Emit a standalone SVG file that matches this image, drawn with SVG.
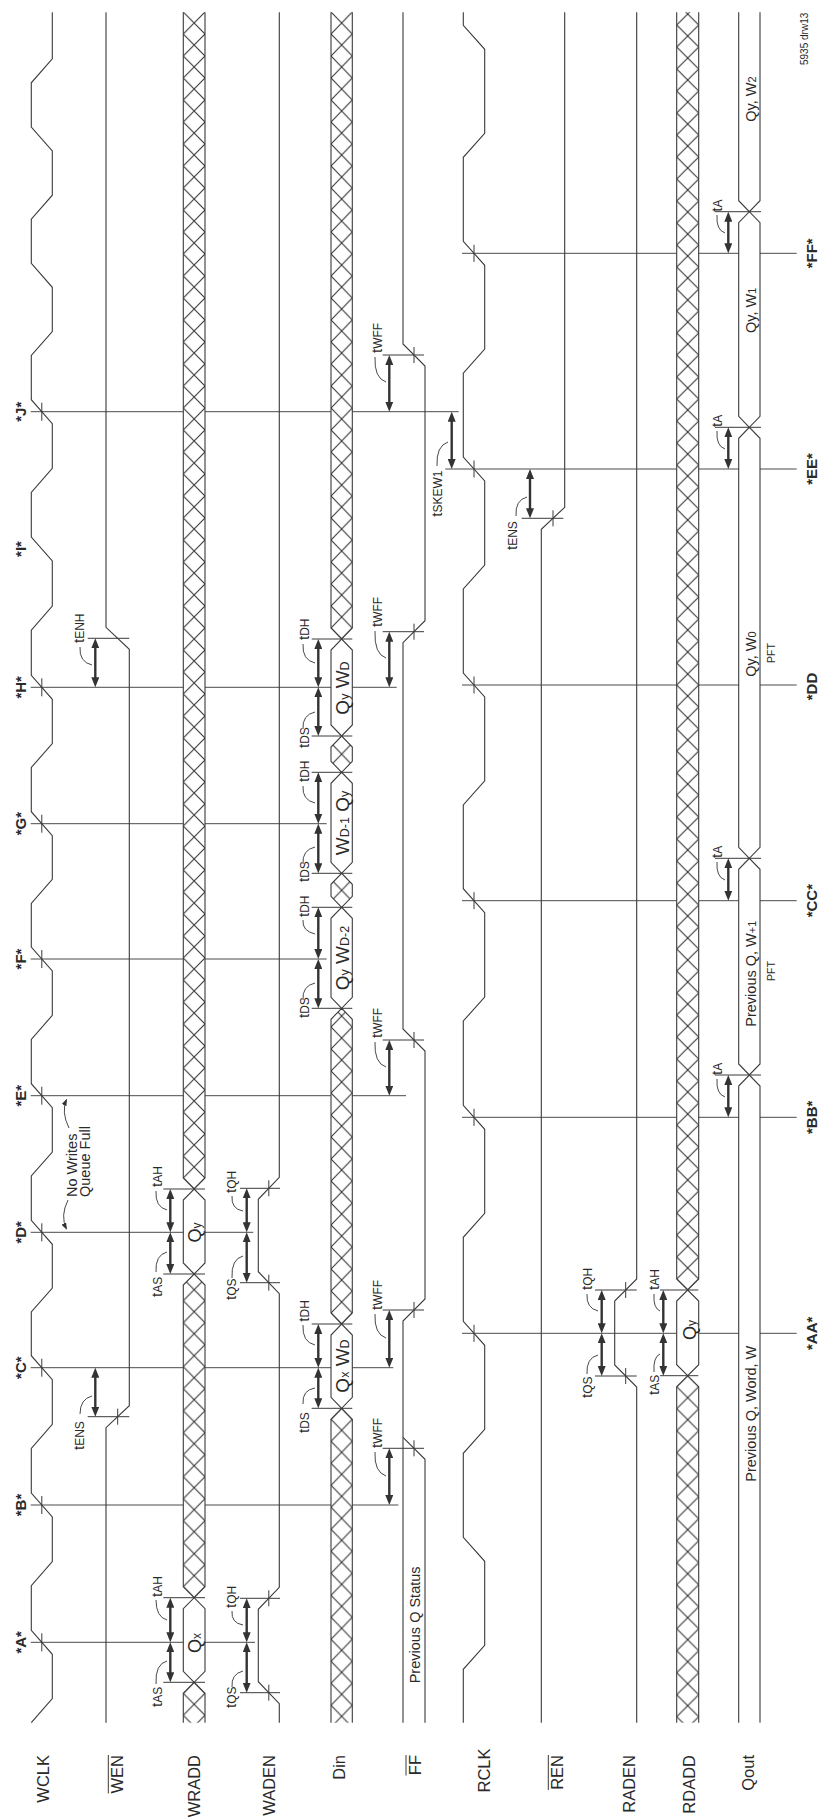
<svg xmlns="http://www.w3.org/2000/svg" width="823" height="1820" viewBox="0 0 823 1820">
<style>
text{font-family:"Liberation Sans",Arial,Helvetica,sans-serif;fill:#2a2a2a}
.w{fill:none;stroke:#3a3a3a;stroke-width:1.1}
.t{fill:none;stroke:#4a4a4a;stroke-width:1}
.k{fill:none;stroke:#3a3a3a;stroke-width:1}
.bw{fill:#fff;stroke:#3a3a3a;stroke-width:1.1}
.a{stroke:#333;stroke-width:2.4;marker-start:url(#ah);marker-end:url(#ah)}
.l{fill:none;stroke:#333;stroke-width:0.9}
.hl{stroke:#363636;stroke-width:1.1}
.n{font-size:16.5px}
.m{font-size:15px;font-weight:bold}
.tl{font-size:15px}
.s{font-size:12px}
.bt{font-size:18px}
.bd{font-size:19px}
.sd{font-size:12.5px}
.q{font-size:14.5px}
.p{font-size:10.5px}
</style>
<defs>
<marker id="ah" viewBox="0 0 10 8" refX="4" refY="4" markerWidth="10" markerHeight="8" markerUnits="userSpaceOnUse" orient="auto-start-reverse"><path d="M0,0L10,4L0,8Z" fill="#333"/></marker>
<marker id="sa" viewBox="0 0 8 6" refX="7" refY="3" markerWidth="7" markerHeight="5.5" markerUnits="userSpaceOnUse" orient="auto"><path d="M0,0L8,3L0,6Z" fill="#333"/></marker>
<g id="hxW"><rect width="21.7" height="22" fill="#fff"/><path class="hl" d="M0,0L21.7,22M0,22L21.7,0"/></g>
<g id="hxD"><rect width="21.3" height="22" fill="#fff"/><path class="hl" d="M0,0L21.3,22M0,22L21.3,0"/></g>
<g id="hxR"><rect width="22" height="22" fill="#fff"/><path class="hl" d="M0,0L22,22M0,22L22,0"/></g>
<pattern id="pW1" patternUnits="userSpaceOnUse" x="183.3" y="1671.3" width="21.7" height="22"><use href="#hxW"/></pattern>
<pattern id="pW3" patternUnits="userSpaceOnUse" x="183.3" y="1586.7" width="21.7" height="22"><use href="#hxW"/></pattern>
<pattern id="pW5" patternUnits="userSpaceOnUse" x="183.3" y="1178" width="21.7" height="22"><use href="#hxW"/></pattern>
<pattern id="pD1" patternUnits="userSpaceOnUse" x="331" y="1397.3" width="21.3" height="22"><use href="#hxD"/></pattern>
<pattern id="pD3" patternUnits="userSpaceOnUse" x="331" y="1313" width="21.3" height="22"><use href="#hxD"/></pattern>
<pattern id="pD5" patternUnits="userSpaceOnUse" x="331" y="879.3" width="21.3" height="22"><use href="#hxD"/></pattern>
<pattern id="pD7" patternUnits="userSpaceOnUse" x="331" y="743.15" width="21.3" height="22"><use href="#hxD"/></pattern>
<pattern id="pD9" patternUnits="userSpaceOnUse" x="331" y="628" width="21.3" height="22"><use href="#hxD"/></pattern>
<pattern id="pR1" patternUnits="userSpaceOnUse" x="676.7" y="1364.7" width="22" height="22"><use href="#hxR"/></pattern>
<pattern id="pR3" patternUnits="userSpaceOnUse" x="676.7" y="1279" width="22" height="22"><use href="#hxR"/></pattern>
</defs>
<rect width="823" height="1820" fill="#fff"/>

<g id="time-lines">
<path class="t" d="M30.7,1642.3H255M30.7,1505H398.3M30.7,1367.7H393.3M30.7,1232.3H253.3M30.7,1095.7H406M30.7,959H326.7M30.7,823.7H326.7M30.7,687.3H396.7M30.7,411.7H458.7M462,1333.3H796.7M462,1117.3H796.7M462,900.7H796.7M462,685H796.7M445.3,469H796.7M462,253.3H796.7"/>
</g>

<g id="sig-WCLK">
<polyline class="w" points="31.3,1722.7 52.3,1698.6 52.3,1654.3 31.3,1630.3 31.3,1585.65 52.3,1561.65 52.3,1517 31.3,1493 31.3,1448.35 52.3,1424.35 52.3,1379.7 31.3,1355.7 31.3,1312 52.3,1288 52.3,1244.3 31.3,1220.3 31.3,1176 52.3,1152 52.3,1107.7 31.3,1083.7 31.3,1039.35 52.3,1015.35 52.3,971 31.3,947 31.3,903.35 52.3,879.35 52.3,835.7 31.3,811.7 31.3,767.5 52.3,743.5 52.3,699.3 31.3,675.3 31.3,630.15 52.3,606.15 52.3,561 31.3,537 31.3,492.35 52.3,468.35 52.3,423.7 31.3,399.7 31.3,355.5 52.3,331.5 52.3,287.3 31.3,263.3 31.3,219.2 52.3,195.2 52.3,151 31.3,127 31.3,82.8 52.3,58.8 52.3,12.3"/>
<text class="n" text-anchor="end" transform="translate(48.5,1755) rotate(-90)">WCLK</text>
</g>

<g id="sig-WEN">
<polyline class="w" points="106,1722.7 106,1427.7 129.3,1405.7 129.3,649.3 106,627.3 106,12.3"/>
<text class="n" text-anchor="end" transform="translate(123,1755) rotate(-90)">WEN</text>
<line class="k" x1="108.3" y1="1755" x2="108.3" y2="1793.5" stroke-width="1.2"/>
</g>

<g id="sig-WRADD">
<path class="bw" style="fill:url(#pW1)" d="M183.3,1722.7L183.3,1693.3L194.15,1682.3L205,1693.3L205,1722.7"/>
<path class="bw" d="M194.15,1682.3L183.3,1671.3L183.3,1608.7L194.15,1597.7L205,1608.7L205,1671.3Z"/>
<path class="bw" style="fill:url(#pW3)" d="M194.15,1597.7L183.3,1586.7L183.3,1285L194.15,1274L205,1285L205,1586.7Z"/>
<path class="bw" d="M194.15,1274L183.3,1263L183.3,1200L194.15,1189L205,1200L205,1263Z"/>
<path class="bw" style="fill:url(#pW5)" d="M183.3,12.3L183.3,1178L194.15,1189L205,1178L205,12.3"/>
<text class="bt" text-anchor="middle" transform="translate(200.5,1643) rotate(-90)">Q<tspan class="s">x</tspan></text>
<text class="bt" text-anchor="middle" transform="translate(200.5,1232.5) rotate(-90)">Q<tspan class="s">y</tspan></text>
<text class="n" text-anchor="end" transform="translate(200,1755) rotate(-90)">WRADD</text>
</g>

<g id="sig-WADEN">
<polyline class="w" points="279.3,1722.7 279.3,1703.7 258.3,1681.7 258.3,1609.3 279.3,1587.3 279.3,1293.7 258.3,1271.7 258.3,1199.3 279.3,1177.3 279.3,12.3"/>
<text class="n" text-anchor="end" transform="translate(275,1755) rotate(-90)">WADEN</text>
</g>

<g id="sig-Din">
<path class="bw" style="fill:url(#pD1)" d="M331,1722.7L331,1419.3L341.65,1408.3L352.3,1419.3L352.3,1722.7"/>
<path class="bw" d="M341.65,1408.3L331,1397.3L331,1335L341.65,1324L352.3,1335L352.3,1397.3Z"/>
<path class="bw" style="fill:url(#pD3)" d="M341.65,1324L331,1313L331,1019.3L341.65,1008.3L352.3,1019.3L352.3,1313Z"/>
<path class="bw" d="M341.65,1008.3L331,997.3L331,918.3L341.65,907.3L352.3,918.3L352.3,997.3Z"/>
<path class="bw" style="fill:url(#pD5)" d="M341.65,907.3L331,896.3L331,884.3L341.65,873.3L352.3,884.3L352.3,896.3Z"/>
<path class="bw" d="M341.65,873.3L331,862.3L331,783.3L341.65,772.3L352.3,783.3L352.3,862.3Z"/>
<path class="bw" style="fill:url(#pD7)" d="M341.65,772.3L331,761.3L331,747L341.65,736L352.3,747L352.3,761.3Z"/>
<path class="bw" d="M341.65,736L331,725L331,650L341.65,639L352.3,650L352.3,725Z"/>
<path class="bw" style="fill:url(#pD9)" d="M331,12.3L331,628L341.65,639L352.3,628L352.3,12.3"/>
<text class="bd" text-anchor="middle" transform="translate(348.5,1366) rotate(-90)">Q<tspan class="sd">x</tspan> W<tspan class="sd">D</tspan></text>
<text class="bd" text-anchor="middle" transform="translate(348.5,958) rotate(-90)">Q<tspan class="sd">y</tspan> W<tspan class="sd">D-2</tspan></text>
<text class="bd" text-anchor="middle" transform="translate(348.5,823) rotate(-90)">W<tspan class="sd">D-1</tspan> Q<tspan class="sd">y</tspan></text>
<text class="bd" text-anchor="middle" transform="translate(348.5,688) rotate(-90)">Q<tspan class="sd">y</tspan> W<tspan class="sd">D</tspan></text>
<text class="n" text-anchor="end" transform="translate(345,1755) rotate(-90)">Din</text>
</g>

<g id="sig-FF">
<polyline class="w" points="403,1722.7 403,1321 425,1299 425,1051 403,1029 403,642.7 425,620.7 425,366 403,344 403,12.3"/>
<polyline class="w" points="425,1722.7 425,1459.3 403,1437.3"/>
<text class="q" transform="translate(420,1683.3) rotate(-90)">Previous Q Status</text>
<text class="n" text-anchor="end" transform="translate(420.5,1755) rotate(-90)">FF</text>
<line class="k" x1="406" y1="1755" x2="406" y2="1775.5" stroke-width="1.2"/>
</g>

<g id="sig-RCLK">
<polyline class="w" points="463.3,1722.7 463.3,1669.3 484.7,1645.3 484.7,1561.3 463.3,1537.3 463.3,1453.3 484.7,1429.3 484.7,1345.3 463.3,1321.3 463.3,1237.3 484.7,1213.3 484.7,1129.3 463.3,1105.3 463.3,1021 484.7,997 484.7,912.7 463.3,888.7 463.3,804.85 484.7,780.85 484.7,697 463.3,673 463.3,589 484.7,565 484.7,481 463.3,457 463.3,373.15 484.7,349.15 484.7,265.3 463.3,241.3 463.3,157.3 484.7,133.3 484.7,49.3 463.3,25.3 463.3,12.3"/>
<text class="n" text-anchor="end" transform="translate(490,1748.5) rotate(-90)">RCLK</text>
</g>

<g id="sig-REN">
<polyline class="w" points="541.3,1722.7 541.3,529.3 564.7,507.3 564.7,12.3"/>
<text class="n" text-anchor="end" transform="translate(563,1755) rotate(-90)">REN</text>
<line class="k" x1="548.3" y1="1755" x2="548.3" y2="1790" stroke-width="1.2"/>
</g>

<g id="sig-RADEN">
<polyline class="w" points="636.7,1722.7 636.7,1387 614.7,1365 614.7,1301 636.7,1279 636.7,12.3"/>
<text class="n" text-anchor="end" transform="translate(635,1755) rotate(-90)">RADEN</text>
</g>

<g id="sig-RDADD">
<path class="bw" style="fill:url(#pR1)" d="M676.7,1722.7L676.7,1386.7L687.7,1375.7L698.7,1386.7L698.7,1722.7"/>
<path class="bw" d="M687.7,1375.7L676.7,1364.7L676.7,1301L687.7,1290L698.7,1301L698.7,1364.7Z"/>
<path class="bw" style="fill:url(#pR3)" d="M676.7,12.3L676.7,1279L687.7,1290L698.7,1279L698.7,12.3"/>
<text class="bt" text-anchor="middle" transform="translate(695.5,1330) rotate(-90)">Q<tspan class="s">y</tspan></text>
<text class="n" text-anchor="end" transform="translate(695,1755) rotate(-90)">RDADD</text>
</g>

<g id="sig-Qout">
<path class="bw" d="M738.7,1722.7L738.7,1086L749.35,1075L760,1086L760,1722.7"/>
<path class="bw" d="M749.35,1075L738.7,1064L738.7,869.3L749.35,858.3L760,869.3L760,1064Z"/>
<path class="bw" d="M749.35,858.3L738.7,847.3L738.7,438.3L749.35,427.3L760,438.3L760,847.3Z"/>
<path class="bw" d="M749.35,427.3L738.7,416.3L738.7,222.7L749.35,211.7L760,222.7L760,416.3Z"/>
<path class="bw" d="M738.7,12.3L738.7,200.7L749.35,211.7L760,200.7L760,12.3"/>
<text class="q" transform="translate(756,1481.7) rotate(-90)">Previous Q, Word, W</text>
<text class="q" transform="translate(756,1026.7) rotate(-90)">Previous Q, W<tspan font-size="11">+1</tspan></text>
<text class="p" text-anchor="middle" transform="translate(775,971) rotate(-90)">PFT</text>
<text class="q" transform="translate(756,676.7) rotate(-90)">Qy, W<tspan font-size="11">0</tspan></text>
<text class="p" text-anchor="middle" transform="translate(775,653) rotate(-90)">PFT</text>
<text class="q" transform="translate(756,333) rotate(-90)">Qy, W<tspan font-size="11">1</tspan></text>
<text class="q" transform="translate(756,121.7) rotate(-90)">Qy, W<tspan font-size="11">2</tspan></text>
<text class="n" text-anchor="end" transform="translate(753.5,1755) rotate(-90)">Qout</text>
</g>

<g id="timing">
<path class="k" d="M41.8,1633.3V1651.3M41.8,1496V1514M41.8,1358.7V1376.7M41.8,1223.3V1241.3M41.8,1086.7V1104.7M41.8,950V968M41.8,814.7V832.7M41.8,678.3V696.3M41.8,402.7V420.7M474,1324.8V1341.8M474,1108.8V1125.8M474,892.2V909.2M474,676.5V693.5M474,460.5V477.5M474,244.8V261.8M268.8,1684.7V1700.7M268.8,1590.3V1606.3M268.8,1274.7V1290.7M268.8,1180.3V1196.3M625.7,1368V1384M625.7,1282V1298M553,510.3V526.3M117.7,1408.7V1424.7M414,1440.3V1456.3M414,1302V1318M414,1032V1048M414,623.7V639.7M414,347V363"/>
<path class="k" d="M163.3,1682.3H205M163.3,1597.7H205M163.3,1274H205M163.3,1189H205M240,1692.7H280M240,1598.3H280M240,1282.7H280M240,1188.3H280M311.7,1408.3H352.3M311.7,1324H352.3M311.7,1008.3H352.3M311.7,907.3H352.3M311.7,873.3H352.3M311.7,772.3H352.3M311.7,736H352.3M311.7,639H352.3M382.7,1448.3H424M382.7,1310H424M382.7,1040H424M382.7,631.7H424M382.7,355H424M87.7,1416.7H129.3M87.7,638.3H129.3M595,1376H636.7M595,1290H636.7M660,1375.7H698.3M660,1290H698.3M521.7,518.3H563.3M715,1075H761M715,858.3H761M715,427.3H761M715,211.7H761"/>
<line class="a" x1="170.3" y1="1676.3" x2="170.3" y2="1648.3"/>
<line class="a" x1="170.3" y1="1636.3" x2="170.3" y2="1603.7"/>
<line class="a" x1="246.7" y1="1686.7" x2="246.7" y2="1648.3"/>
<line class="a" x1="246.7" y1="1636.3" x2="246.7" y2="1604.3"/>
<line class="a" x1="389.3" y1="1499" x2="389.3" y2="1454.3"/>
<line class="a" x1="95.3" y1="1410.7" x2="95.3" y2="1373.7"/>
<line class="a" x1="318.3" y1="1402.3" x2="318.3" y2="1373.7"/>
<line class="a" x1="318.3" y1="1361.7" x2="318.3" y2="1330"/>
<line class="a" x1="389.3" y1="1361.7" x2="389.3" y2="1316"/>
<line class="a" x1="170.3" y1="1268" x2="170.3" y2="1238.3"/>
<line class="a" x1="170.3" y1="1226.3" x2="170.3" y2="1195"/>
<line class="a" x1="246.7" y1="1276.7" x2="246.7" y2="1238.3"/>
<line class="a" x1="246.7" y1="1226.3" x2="246.7" y2="1194.3"/>
<line class="a" x1="389.3" y1="1089.7" x2="389.3" y2="1046"/>
<line class="a" x1="318.3" y1="1002.3" x2="318.3" y2="965"/>
<line class="a" x1="318.3" y1="953" x2="318.3" y2="913.3"/>
<line class="a" x1="318.3" y1="867.3" x2="318.3" y2="829.7"/>
<line class="a" x1="318.3" y1="817.7" x2="318.3" y2="778.3"/>
<line class="a" x1="318.3" y1="730" x2="318.3" y2="693.3"/>
<line class="a" x1="318.3" y1="681.3" x2="318.3" y2="645"/>
<line class="a" x1="389.3" y1="681.3" x2="389.3" y2="637.7"/>
<line class="a" x1="95.3" y1="681.3" x2="95.3" y2="644.3"/>
<line class="a" x1="389.3" y1="405.7" x2="389.3" y2="361"/>
<line class="a" x1="601.7" y1="1370" x2="601.7" y2="1339.3"/>
<line class="a" x1="601.7" y1="1327.3" x2="601.7" y2="1296"/>
<line class="a" x1="663.3" y1="1369.7" x2="663.3" y2="1339.3"/>
<line class="a" x1="663.3" y1="1327.3" x2="663.3" y2="1296"/>
<line class="a" x1="728.3" y1="1111.3" x2="728.3" y2="1081"/>
<line class="a" x1="728.3" y1="894.7" x2="728.3" y2="864.3"/>
<line class="a" x1="530" y1="512.3" x2="530" y2="475"/>
<line class="a" x1="451.7" y1="463" x2="451.7" y2="417.7"/>
<line class="a" x1="728.3" y1="463" x2="728.3" y2="433.3"/>
<line class="a" x1="728.3" y1="247.3" x2="728.3" y2="217.7"/>
<path class="l" d="M156,1684Q155,1664 167,1661M156,1600Q156,1617 167,1620M232,1687Q231,1674 243,1671M232,1611Q231,1623 243,1625M375,1452Q374,1472 386,1476M80,1414Q80,1399 92,1396M303,1404Q302,1390 315,1388M303,1325Q302,1342 315,1345M375,1314Q374,1334 386,1338M156,1272Q155,1255 167,1252M156,1191Q155,1207 167,1210M232,1278Q231,1259 243,1256M232,1196Q231,1209 243,1211M375,1042Q374,1063 386,1067M303,1000Q302,986 315,983M303,920Q302,931 315,934M303,864Q302,850 315,847M303,786Q302,800 315,803M303,729Q302,715 315,712M303,644Q302,660 315,663M375,631Q374,654 386,658M80,647Q79,662 92,665M375,357Q374,378 386,382M587,1374Q586,1358 598,1355M587,1294Q586,1308 598,1311M654,1372Q653,1357 660,1354M654,1294Q653,1308 660,1311M717,1079Q716,1094 725,1097M717,862Q716,877 725,880M516,516Q515,500 527,497M437,466Q436,446 448,442M717,431Q716,446 725,449M717,215Q716,230 725,233"/>
<path class="l" d="M69,1128Q61,1112 66.5,1099.5" marker-end="url(#sa)"/>
<path class="l" d="M68,1200Q60,1216 66.5,1229" marker-end="url(#sa)"/>
</g>

<g id="timing-labels">
<text class="tl" transform="translate(161.5,1707) rotate(-90)">t<tspan class="s">AS</tspan></text>
<text class="tl" transform="translate(161.5,1597) rotate(-90)">t<tspan class="s">AH</tspan></text>
<text class="tl" transform="translate(235.5,1708) rotate(-90)">t<tspan class="s">QS</tspan></text>
<text class="tl" transform="translate(235.5,1608) rotate(-90)">t<tspan class="s">QH</tspan></text>
<text class="tl" transform="translate(382,1448) rotate(-90)">t<tspan class="s">WFF</tspan></text>
<text class="tl" transform="translate(84,1450) rotate(-90)">t<tspan class="s">ENS</tspan></text>
<text class="tl" transform="translate(308.5,1433) rotate(-90)">t<tspan class="s">DS</tspan></text>
<text class="tl" transform="translate(308.5,1321.7) rotate(-90)">t<tspan class="s">DH</tspan></text>
<text class="tl" transform="translate(382,1310) rotate(-90)">t<tspan class="s">WFF</tspan></text>
<text class="tl" transform="translate(161.5,1297) rotate(-90)">t<tspan class="s">AS</tspan></text>
<text class="tl" transform="translate(161.5,1187) rotate(-90)">t<tspan class="s">AH</tspan></text>
<text class="tl" transform="translate(235.5,1300) rotate(-90)">t<tspan class="s">QS</tspan></text>
<text class="tl" transform="translate(235.5,1193) rotate(-90)">t<tspan class="s">QH</tspan></text>
<text class="tl" transform="translate(382,1038) rotate(-90)">t<tspan class="s">WFF</tspan></text>
<text class="tl" transform="translate(308.5,1018) rotate(-90)">t<tspan class="s">DS</tspan></text>
<text class="tl" transform="translate(308.5,917) rotate(-90)">t<tspan class="s">DH</tspan></text>
<text class="tl" transform="translate(308.5,882) rotate(-90)">t<tspan class="s">DS</tspan></text>
<text class="tl" transform="translate(308.5,782) rotate(-90)">t<tspan class="s">DH</tspan></text>
<text class="tl" transform="translate(308.5,748) rotate(-90)">t<tspan class="s">DS</tspan></text>
<text class="tl" transform="translate(308.5,640) rotate(-90)">t<tspan class="s">DH</tspan></text>
<text class="tl" transform="translate(382,627) rotate(-90)">t<tspan class="s">WFF</tspan></text>
<text class="tl" transform="translate(84,643) rotate(-90)">t<tspan class="s">ENH</tspan></text>
<text class="tl" transform="translate(382,353) rotate(-90)">t<tspan class="s">WFF</tspan></text>
<text class="tl" transform="translate(592,1398) rotate(-90)">t<tspan class="s">QS</tspan></text>
<text class="tl" transform="translate(592,1290) rotate(-90)">t<tspan class="s">QH</tspan></text>
<text class="tl" transform="translate(658.5,1395) rotate(-90)">t<tspan class="s">AS</tspan></text>
<text class="tl" transform="translate(658.5,1290) rotate(-90)">t<tspan class="s">AH</tspan></text>
<text class="tl" transform="translate(722,1075) rotate(-90)">t<tspan class="s">A</tspan></text>
<text class="tl" transform="translate(722,858) rotate(-90)">t<tspan class="s">A</tspan></text>
<text class="tl" transform="translate(517,550) rotate(-90)">t<tspan class="s">ENS</tspan></text>
<text class="tl" transform="translate(442,516.7) rotate(-90)">t<tspan class="s">SKEW1</tspan></text>
<text class="tl" transform="translate(722,427) rotate(-90)">t<tspan class="s">A</tspan></text>
<text class="tl" transform="translate(722,211.7) rotate(-90)">t<tspan class="s">A</tspan></text>
<text class="q" transform="translate(76.5,1197) rotate(-90)">No Writes</text>
<text class="q" transform="translate(89.5,1197) rotate(-90)">Queue Full</text>
</g>

<g id="markers">
<text class="m" text-anchor="middle" transform="translate(26,1642.3) rotate(-90)">*A*</text>
<text class="m" text-anchor="middle" transform="translate(26,1505) rotate(-90)">*B*</text>
<text class="m" text-anchor="middle" transform="translate(26,1367.7) rotate(-90)">*C*</text>
<text class="m" text-anchor="middle" transform="translate(26,1232.3) rotate(-90)">*D*</text>
<text class="m" text-anchor="middle" transform="translate(26,1095.7) rotate(-90)">*E*</text>
<text class="m" text-anchor="middle" transform="translate(26,959) rotate(-90)">*F*</text>
<text class="m" text-anchor="middle" transform="translate(26,823.7) rotate(-90)">*G*</text>
<text class="m" text-anchor="middle" transform="translate(26,687.3) rotate(-90)">*H*</text>
<text class="m" text-anchor="middle" transform="translate(26,549) rotate(-90)">*I*</text>
<text class="m" text-anchor="middle" transform="translate(26,411.7) rotate(-90)">*J*</text>
<text class="m" text-anchor="middle" transform="translate(817,1333.3) rotate(-90)">*AA*</text>
<text class="m" text-anchor="middle" transform="translate(817,1117.3) rotate(-90)">*BB*</text>
<text class="m" text-anchor="middle" transform="translate(817,900.7) rotate(-90)">*CC*</text>
<text class="m" text-anchor="middle" transform="translate(817,686.5) rotate(-90)">*DD</text>
<text class="m" text-anchor="middle" transform="translate(817,469) rotate(-90)">*EE*</text>
<text class="m" text-anchor="middle" transform="translate(817,253.3) rotate(-90)">*FF*</text>
<text font-size="10" transform="translate(808,65) rotate(-90)">5935 drw13</text>
</g>
</svg>
